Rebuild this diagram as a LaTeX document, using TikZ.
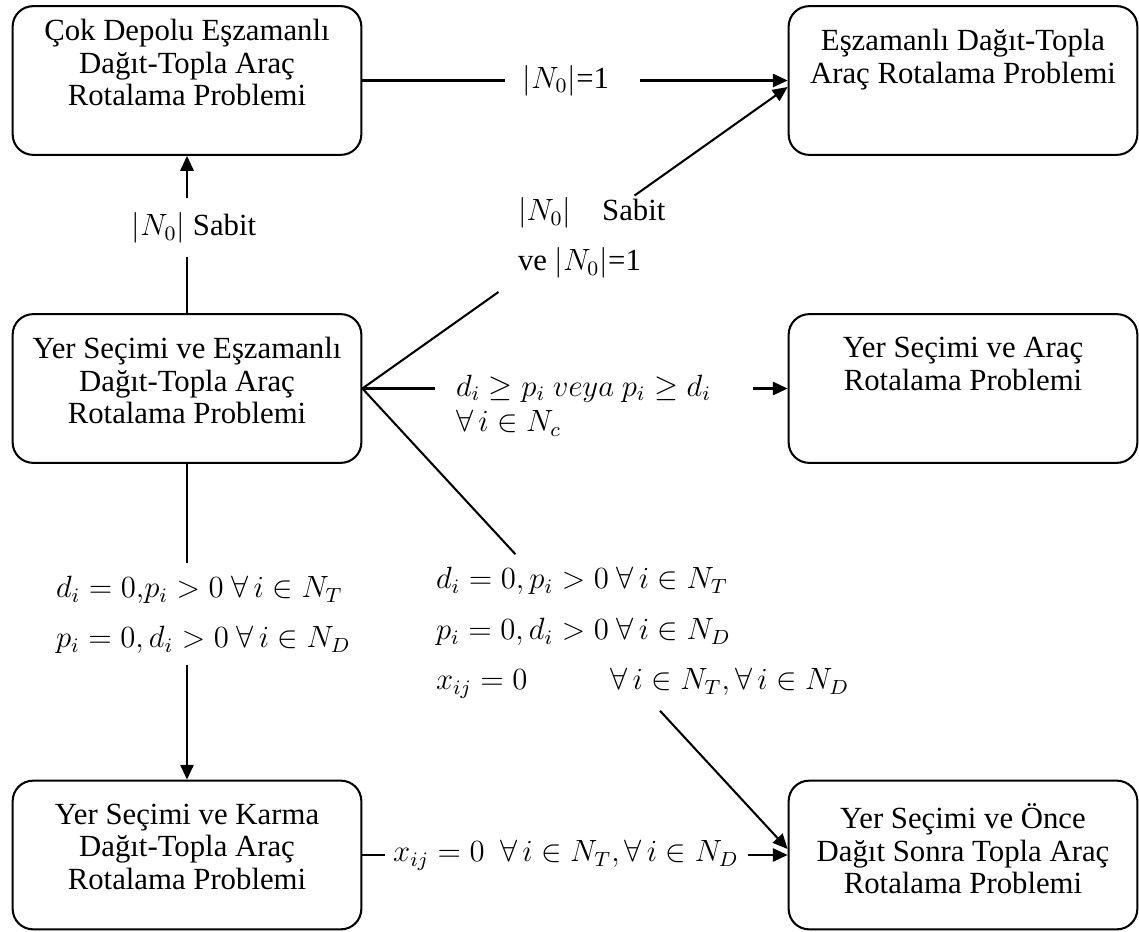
\documentclass[tikz,border=0pt]{standalone}
\usepackage{fontspec}
\setmainfont{Liberation Serif}
\usetikzlibrary{arrows.meta,calc,positioning}
\tikzset{
	box/.style={draw, rounded corners=8pt, line width=0.8pt, minimum width=136pt, minimum height=58pt, inner sep=0pt},
	boxtext/.style={align=center, anchor=north, inner sep=0pt},
	lbl/.style={align=left, inner sep=0pt, anchor=west},
	arr/.style={-{Triangle[length=5.8pt,width=5.2pt]}}
}
\begin{document}
\begin{tikzpicture}[x=0.39pt, y=-0.39pt, line width=0.8pt, font=\fontsize{12}{12.7}\selectfont]
		\useasboundingbox (0,0) rectangle (1139,932);
		\node[box] (tl) at (187,80.5) {};
		\node[boxtext] (tltext) at ($(tl.north)+(0,13)$) {Çok Depolu Eşzamanlı\\Dağıt-Topla Araç\\Rotalama Problemi};
		\node[box] (tr) at (963,80.5) {};
		\node[boxtext] (trtext) at ($(tr.north)+(0,23)$) {Eşzamanlı Dağıt-Topla\\Araç Rotalama Problemi};
		\node[box] (ml) at (187,388.5) {};
		\node[boxtext] (mltext) at ($(ml.north)+(0,23)$) {Yer Seçimi ve Eşzamanlı\\Dağıt-Topla Araç\\Rotalama Problemi};
		\node[box] (mr) at (963,388.5) {};
		\node[boxtext] (mrtext) at ($(mr.north)+(0,23)$) {Yer Seçimi ve Araç\\Rotalama Problemi};
		\node[box] (bl) at (187,855) {};
		\node[boxtext] (bltext) at ($(bl.north)+(0,23)$) {Yer Seçimi ve Karma\\Dağıt-Topla Araç\\Rotalama Problemi};
		\node[box] (br) at (963,855) {};
		\node[boxtext] (brtext) at ($(br.north)+(0,23)$) {Yer Seçimi ve Önce\\Dağıt Sonra Topla Araç\\Rotalama Problemi};

		\node[inner sep=0pt] (n1) at (566,80.5) {$|N_0|$=1};
		\node[inner sep=0pt] (n2) at (194,228) {$|N_0|$ Sabit};
		\node[lbl] (n3) at (517,238) {$|N_0|$\hspace{9pt} Sabit\\[7pt]ve $|N_0|$=1};
		\node[lbl] (n4) at (455,405.5) {$d_i \geq p_i\ veya\ p_i \geq d_i$\\[1pt]$\forall\, i \in N_c$};
		\node[lbl] (n5) at (435,633) {$d_i = 0, p_i > 0\ \forall\, i \in N_T$\\[7pt]$p_i = 0, d_i > 0\ \forall\, i \in N_D$\\[7pt]\makebox[68pt][l]{$x_{ij} = 0$}$\forall\, i \in N_T, \forall\, i \in N_D$};
		\node[lbl] (n6) at (55,615) {$d_i = 0{,}p_i > 0\ \forall\, i \in N_T$\\[7pt]$p_i = 0, d_i > 0\ \forall\, i \in N_D$};
		\node[inner sep=0pt] (n7) at (566,855) {$x_{ij} = 0\ \ \forall\, i \in N_T, \forall\, i \in N_D$};

		\coordinate (g1a) at (505,80.5);
		\coordinate (g1b) at (640,80.5);
		\draw (tl.east) -- (g1a);
		\draw[arr] (g1b) -- (tr.west);
		\coordinate (g2a) at (187,257);
		\coordinate (g2b) at (187,198);
		\draw (ml.north) -- (g2a);
		\draw[arr] (g2b) -- (tl.south);
		\coordinate (trin) at ($(tr.west)+(0,6.5)$);
		\draw (ml.east) -- ($(ml.east)!0.32!(trin)$);
		\draw[arr] ($(ml.east)!0.64!(trin)$) -- (trin);
		\coordinate (g4a) at (435,388.5);
		\coordinate (g4b) at (753,388.5);
		\draw (ml.east) -- (g4a);
		\draw[arr] (g4b) -- (mr.west);
		\coordinate (brin) at ($(br.west)+(0,-6)$);
		\draw (ml.east) -- ($(ml.east)!0.36!(brin)$);
		\draw[arr] ($(ml.east)!0.70!(brin)$) -- (brin);
		\coordinate (g6a) at (187,563);
		\coordinate (g6b) at (187,665);
		\draw (ml.south) -- (g6a);
		\draw[arr] (g6b) -- (bl.north);
		\coordinate (g7a) at (385,855);
		\coordinate (g7b) at (748,855);
		\draw (bl.east) -- (g7a);
		\draw[arr] (g7b) -- (br.west);
\end{tikzpicture}
\end{document}
